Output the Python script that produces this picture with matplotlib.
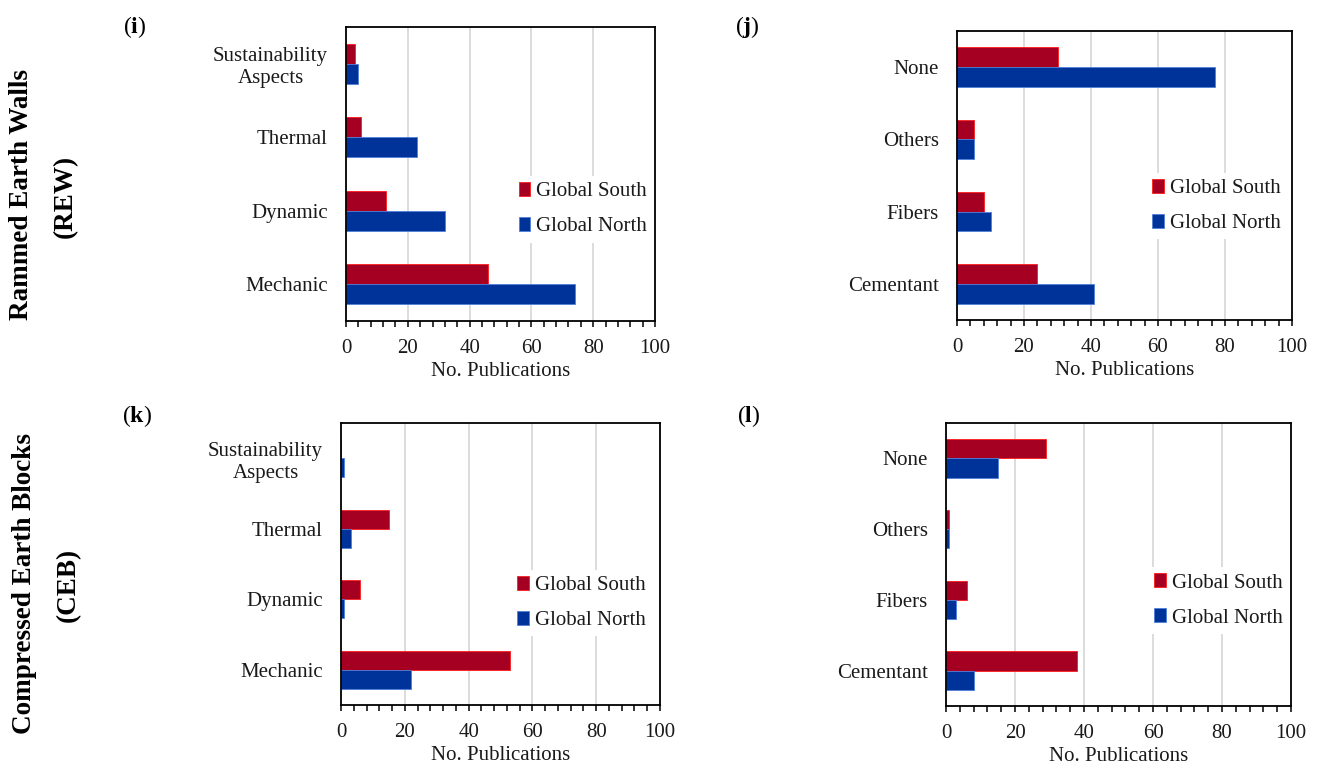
import matplotlib.pyplot as plt
from matplotlib.ticker import MultipleLocator

# =========================
# 데이터
# =========================
topics = ["Mechanic", "Dynamic", "Thermal", "Sustainability\nAspects"]
stabilizers = ["Cementant", "Fibers", "Others", "None"]

rew_topic_south = [46, 13, 5, 3]
rew_topic_north = [74, 32, 23, 4]
rew_stab_south = [24, 8, 5, 30]
rew_stab_north = [41, 10, 5, 77]

ceb_topic_south = [53, 6, 15, 0]
ceb_topic_north = [22, 1, 3, 1]
ceb_stab_south = [38, 6, 1, 29]
ceb_stab_north = [8, 3, 1, 15]

# =========================
# 스타일
# =========================
plt.rcParams["font.family"] = ["Liberation Serif", "DejaVu Serif"]
plt.rcParams["mathtext.fontset"] = "custom"
plt.rcParams["mathtext.rm"] = "Liberation Serif"
plt.rcParams["mathtext.bf"] = "Liberation Serif:bold"
FS = 15
TXT = "#1A1A1A"
RED, RED_EDGE = "#A50021", "#FF1A1A"
BLUE, BLUE_EDGE = "#003399", "#4F7FD9"
BAR_H = 0.272

W, H = 1320, 767
fig = plt.figure(figsize=(W / 100, H / 100), dpi=100)


def px_axes(left, top, right, bottom):
    return fig.add_axes([left / W, 1 - bottom / H, (right - left) / W, (bottom - top) / H])


def draw_panel(ax, labels, south, north, leg_anchor):
    y = list(range(len(labels)))
    ax.barh([v + BAR_H / 2 for v in y], south, height=BAR_H, color=RED,
            edgecolor=RED_EDGE, linewidth=0.6, label="Global South")
    ax.barh([v - BAR_H / 2 for v in y], north, height=BAR_H, color=BLUE,
            edgecolor=BLUE_EDGE, linewidth=0.6, label="Global North")
    ax.set_xlim(0, 100)
    ax.set_ylim(-0.5, len(labels) - 0.5)
    ax.set_yticks(y)
    ax.set_yticklabels(labels, fontsize=FS, multialignment="center", color=TXT)
    ax.tick_params(axis="y", length=0, pad=13)
    ax.xaxis.set_major_locator(MultipleLocator(20))
    ax.xaxis.set_minor_locator(MultipleLocator(4))
    ax.tick_params(axis="x", which="both", direction="out", length=4.5, width=1.1,
                   labelsize=FS, pad=8.5, labelcolor=TXT)
    ax.set_xlabel("No. Publications", fontsize=FS, labelpad=2.5, color=TXT)
    ax.grid(axis="x", color="#D9D9D9", linewidth=1.3)
    ax.set_axisbelow(True)
    for sp in ax.spines.values():
        sp.set_linewidth(1.3)
        sp.set_color("black")
    leg = ax.legend(loc="center right", bbox_to_anchor=leg_anchor, frameon=True,
                    fontsize=FS, handlelength=0.55, handleheight=0.65,
                    handletextpad=0.3, labelspacing=0.75, borderpad=0.3,
                    borderaxespad=0)
    leg.get_frame().set_facecolor("white")
    leg.get_frame().set_edgecolor("none")
    leg.get_frame().set_alpha(1.0)
    for t in leg.get_texts():
        t.set_color(TXT)


ax_i = px_axes(346, 27, 655, 321)
ax_j = px_axes(957, 31, 1292, 320)
ax_k = px_axes(341, 423, 660, 705)
ax_l = px_axes(946, 423, 1291, 706)

draw_panel(ax_i, topics, rew_topic_south, rew_topic_north, (0.995, 0.38))
draw_panel(ax_j, stabilizers, rew_stab_south, rew_stab_north, (0.985, 0.395))
draw_panel(ax_k, topics, ceb_topic_south, ceb_topic_north, (0.975, 0.362))
draw_panel(ax_l, stabilizers, ceb_stab_south, ceb_stab_north, (0.995, 0.373))

# =========================
# 패널 라벨 / 행 라벨
# =========================
for x, yy, s in [(135, 27, "i"), (747, 27, "j"), (137, 416, "k"), (749, 416, "l")]:
    fig.text(x / W, 1 - yy / H, "(" + r"$\mathbf{" + s + "}$" + ")",
             fontsize=FS + 2, ha="center", va="center")

row_kw = dict(fontsize=19.5, fontweight="bold", rotation=90, ha="center", va="center")
fig.text(22 / W, 1 - 195 / H, "Rammed Earth Walls", **row_kw)
fig.text(65 / W, 1 - 196 / H, "(REW)", **row_kw)
fig.text(25 / W, 1 - 583 / H, "Compressed Earth Blocks", **row_kw)
fig.text(68 / W, 1 - 585 / H, "(CEB)", **row_kw)

fig.savefig("out.png", dpi=100)
